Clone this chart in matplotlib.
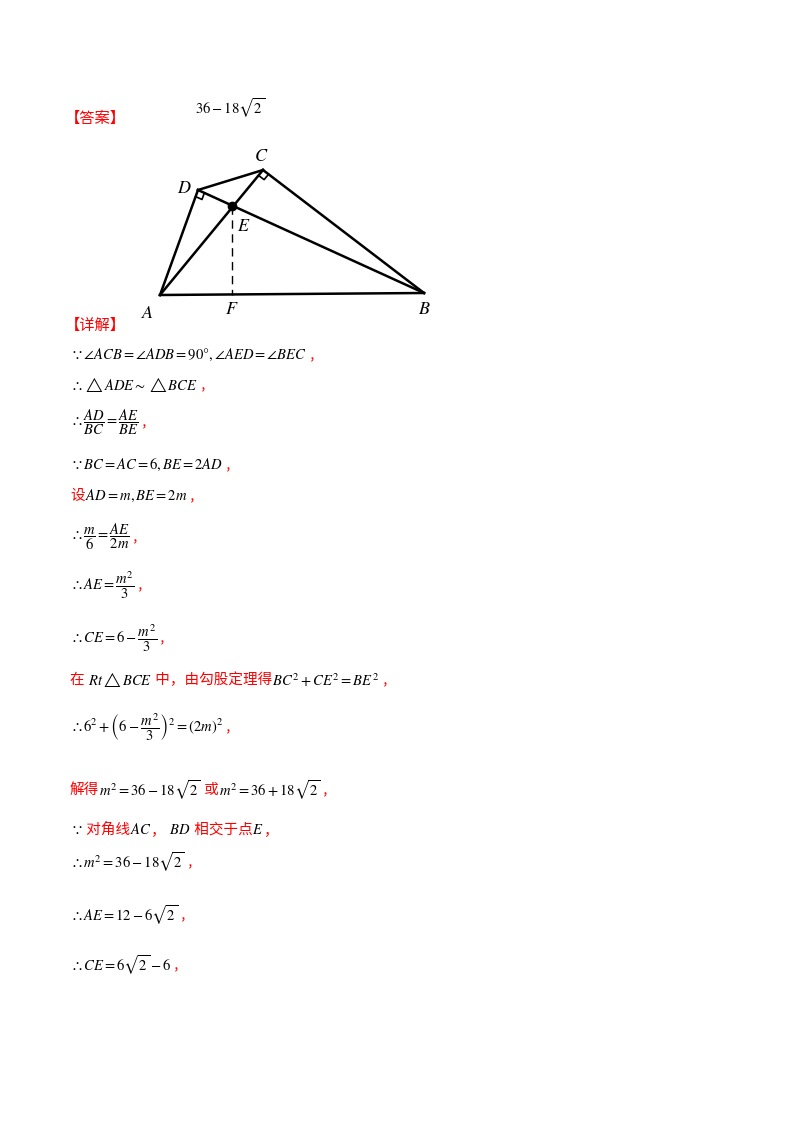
import matplotlib
matplotlib.use("Agg")
import matplotlib.pyplot as plt
import numpy as np

plt.rcParams['font.family'] = ['Noto Sans CJK SC', 'DejaVu Sans']
plt.rcParams['mathtext.fontset'] = 'stix'

# geometry points (pixel coordinates of the figure)
pt_names = ["A", "B", "C", "D", "E", "F"]
pt_x = [160, 424, 263, 198, 232, 232]
pt_y = [295, 293, 170, 190, 206, 295]
P = {n: np.array((x, y), float) for n, x, y in zip(pt_names, pt_x, pt_y)}
segments = [("A", "B"), ("A", "C"), ("A", "D"), ("D", "C"), ("D", "B"), ("C", "B")]
label_off = {"A": (-12, 18), "B": (0, 16), "C": (-2, -14), "D": (-14, -2), "E": (12, 20), "F": (0, 14)}
right_angles = [("D", "A", "B"), ("C", "A", "B")]

RED = "#ff0000"
K = "black"
lines = [
    (355, [(r"$\because\angle ACB=\angle ADB=90°,\angle AED=\angle BEC$", K), (" ,", RED)]),
    (385, [(r"$\therefore\triangle ADE\sim\triangle BCE$", K), (" ,", RED)]),
    (422, [(r"$\therefore\dfrac{AD}{BC}=\dfrac{AE}{BE}$", K), (" ,", RED)]),
    (465, [(r"$\because BC=AC=6,BE=2AD$", K), (" ,", RED)]),
    (496, [("设", RED), (r"$AD=m,BE=2m$", K), (" ,", RED)]),
    (537, [(r"$\therefore\dfrac{m}{6}=\dfrac{AE}{2m}$", K), (" ,", RED)]),
    (585, [(r"$\therefore AE=\dfrac{m^2}{3}$", K), (" ,", RED)]),
    (638, [(r"$\therefore CE=6-\dfrac{m^2}{3}$", K), (" ,", RED)]),
    (680, [("在 ", RED), (r"$Rt\triangle BCE$", K), (" 中，由勾股定理得", RED), (r"$BC^2+CE^2=BE^2$", K), (" ,", RED)]),
    (727, [(r"$\therefore 6^2+\left(6-\dfrac{m^2}{3}\right)^2=\left(2m\right)^2$", K), (" ,", RED)]),
    (790, [("解得", RED), (r"$m^2=36-18\sqrt{2}$", K), (" 或", RED), (r"$m^2=36+18\sqrt{2}$", K), (" ,", RED)]),
    (830, [(r"$\because$", K), (" 对角线", RED), (r"$AC$", K), ("， ", RED), (r"$BD$", K), (" 相交于点", RED), (r"$E$", K), ("，", RED)]),
    (862, [(r"$\therefore m^2=36-18\sqrt{2}$", K), (" ,", RED)]),
    (915, [(r"$\therefore AE=12-6\sqrt{2}$", K), (" ,", RED)]),
    (965, [(r"$\therefore CE=6\sqrt{2}-6$", K), (" ,", RED)]),
]

fig = plt.figure(figsize=(8, 11.32), dpi=100)
ax = fig.add_axes([0, 0, 1, 1])
ax.set_xlim(0, 800)
ax.set_ylim(1132, 0)
ax.axis("off")
r = fig.canvas.get_renderer()

def row(x, y, parts, fs=10.5):
    for s, c in parts:
        t = ax.text(x, y, s, color=c, fontsize=fs, va="center", ha="left")
        bb = t.get_window_extent(renderer=r)
        x += bb.width

row(65, 118, [("【答案】", RED)], fs=11)
ax.text(195, 108, r"$36-18\sqrt{2}$", fontsize=10.5, va="center")
row(65, 325, [("【详解】", RED)], fs=11)

for a, b in segments:
    ax.plot([P[a][0], P[b][0]], [P[a][1], P[b][1]], color="black", lw=1.8)
ax.plot([P["E"][0], P["F"][0]], [P["E"][1], P["F"][1]], color="black", lw=1, ls=(0, (6, 4)))
ax.plot(*P["E"], "o", color="black", ms=6)
for v, a, b in right_angles:
    u1 = (P[a] - P[v]); u1 /= np.linalg.norm(u1)
    u2 = (P[b] - P[v]); u2 /= np.linalg.norm(u2)
    s = 7
    q = [P[v] + s * u1, P[v] + s * (u1 + u2), P[v] + s * u2]
    ax.plot([p[0] for p in q], [p[1] for p in q], color="black", lw=1.2)
for n in pt_names:
    dx, dy = label_off[n]
    ax.text(P[n][0] + dx, P[n][1] + dy, f"${n}$", fontsize=13, ha="center", va="center")

for y, parts in lines:
    row(70, y, parts)

fig.savefig("out.png", dpi=100)
